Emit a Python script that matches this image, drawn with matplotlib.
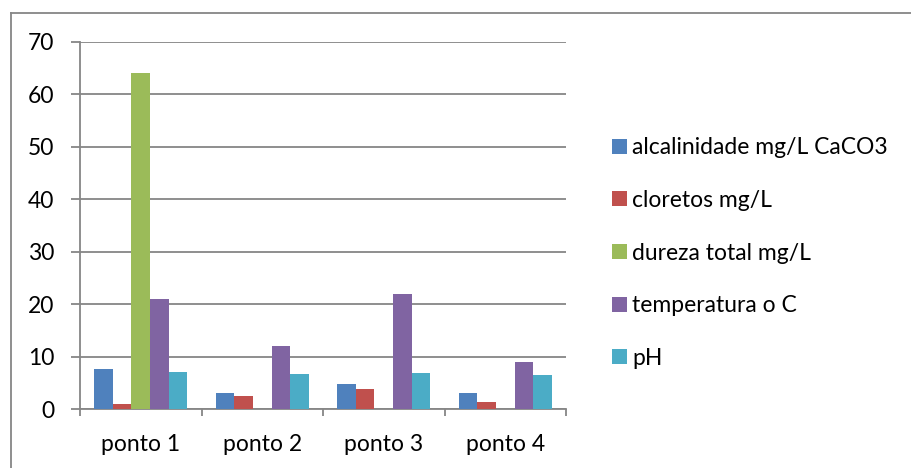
import matplotlib
matplotlib.use("Agg")
import matplotlib.pyplot as plt
import numpy as np
from matplotlib.lines import Line2D

pontos = ["ponto 1", "ponto 2", "ponto 3", "ponto 4"]
series = ["alcalinidade mg/L CaCO3", "cloretos mg/L", "dureza total mg/L",
          "temperatura o C", "pH"]
alcalinidade = [7.7, 3.0, 4.7, 3.0]
cloretos = [1.0, 2.4, 3.9, 1.4]
dureza = [64, 0, 0, 0]
temperatura = [21, 12, 22, 9]
ph = [7.0, 6.6, 6.8, 6.5]
valores = [alcalinidade, cloretos, dureza, temperatura, ph]
cores = ["#4F81BD", "#C0504D", "#9BBB59", "#8064A2", "#4BACC6"]
yticks = [0, 10, 20, 30, 40, 50, 60, 70]

W, H = 911, 468
plt.rcParams["font.family"] = ["Lato", "DejaVu Sans"]
fig = plt.figure(figsize=(W / 100, H / 100), dpi=100)
ax = fig.add_axes([80 / W, 1 - 409 / H, (566 - 80) / W, (409 - 42) / H])

cinza = "#868686"
tam = 16.5
x = np.arange(len(pontos))
largura = 0.153
for i, (nome, vals, cor) in enumerate(zip(series, valores, cores)):
    desloc = (i - 2) * largura
    ax.bar(x + desloc, vals, largura, color=cor, label=nome, zorder=3)

ax.set_xlim(-0.5, len(pontos) - 0.5)
ax.set_ylim(0, 70)
ax.set_yticks(yticks)
ax.yaxis.grid(True, color=cinza, linewidth=1.3, zorder=0)
ax.tick_params(axis="y", length=6.5, width=1.3, color=cinza, pad=12,
               labelsize=tam, direction="out")

ax.set_xticks(np.arange(len(pontos) + 1) - 0.5)
ax.set_xticklabels([])
ax.set_xticks(x, minor=True)
ax.set_xticklabels(pontos, minor=True)
ax.tick_params(axis="x", which="major", length=5, width=1.3, color=cinza,
               direction="out")
ax.tick_params(axis="x", which="minor", length=0, pad=18, labelsize=tam)

for lado in ["top", "right"]:
    ax.spines[lado].set_visible(False)
for lado in ["left", "bottom"]:
    ax.spines[lado].set_color(cinza)
    ax.spines[lado].set_linewidth(1.3)

handles, labels = ax.get_legend_handles_labels()
fig.legend(handles, labels, loc="upper left",
           bbox_to_anchor=(594 / W, 1 - 119 / H), frameon=False,
           fontsize=tam, handlelength=0.62, handleheight=0.62,
           handletextpad=0.25, labelspacing=1.38, borderpad=0.3)

# moldura externa do gráfico
fig.add_artist(Line2D([11 / W, 1], [1 - 13 / H, 1 - 13 / H],
                      color=cinza, linewidth=1.3))
fig.add_artist(Line2D([11 / W, 11 / W], [0, 1 - 13 / H],
                      color=cinza, linewidth=1.3))

fig.savefig("out.png", dpi=100)
